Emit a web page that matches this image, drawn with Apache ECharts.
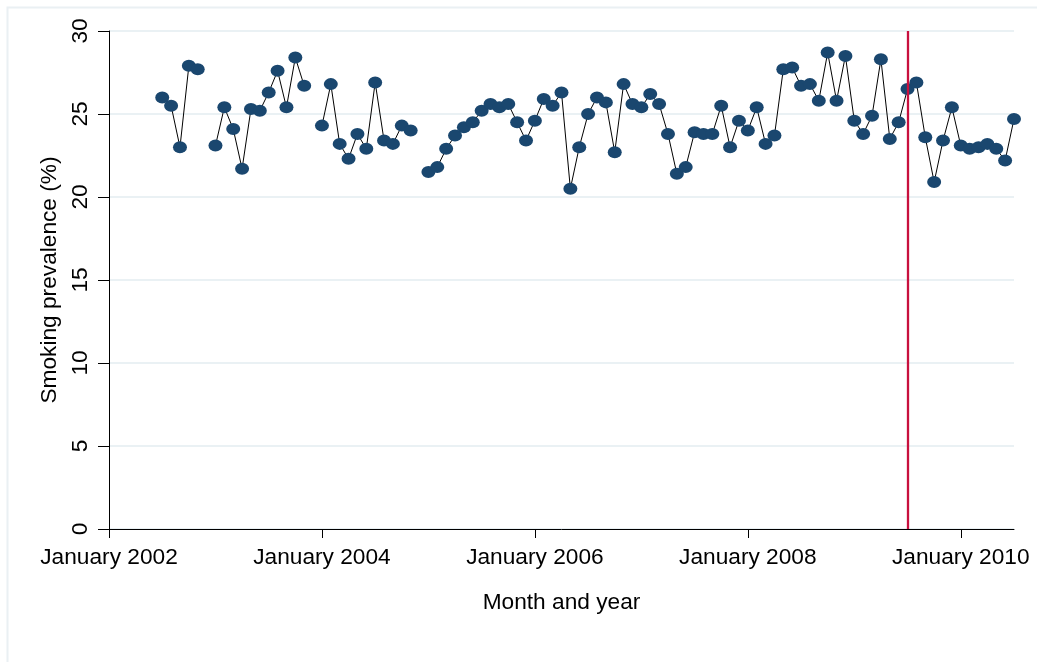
<!DOCTYPE html>
<html>
<head>
<meta charset="utf-8">
<script src="https://cdn.jsdelivr.net/npm/echarts@6/dist/echarts.min.js"></script>
<style>
html,body{margin:0;padding:0;background:#fff;}
#chart{width:1037px;height:662px;}
</style>
</head>
<body>
<div id="chart"></div>
<script>
// Month index 0 = January 2002; first observation July 2002 (index 6)
var firstMonth = 6;
var prevalence = [
  26.0, 25.5, 23.0, 27.9, 27.7, null,
  23.1, 25.4, 24.1, 21.7, 25.3, 25.2, 26.3, 27.6, 25.4, 28.4, 26.7, null,
  24.3, 26.8, 23.2, 22.3, 23.8, 22.9, 26.9, 23.4, 23.2, 24.3, 24.0, null,
  21.5, 21.8, 22.9, 23.7, 24.2, 24.5, 25.2, 25.6, 25.4, 25.6, 24.5, 23.4,
  24.6, 25.9, 25.5, 26.3, 20.5, 23.0, 25.0, 26.0, 25.7, 22.7, 26.8, 25.6,
  25.4, 26.2, 25.6, 23.8, 21.4, 21.8, 23.9, 23.8, 23.8, 25.5, 23.0, 24.6,
  24.0, 25.4, 23.2, 23.7, 27.7, 27.8, 26.7, 26.8, 25.8, 28.7, 25.8, 28.5,
  24.6, 23.8, 24.9, 28.3, 23.5, 24.5, 26.5, 26.9, 23.6, 20.9, 23.4, 25.4,
  23.1, 22.9, 23.0, 23.2, 22.9, 22.2, 24.7
];
var xTickMonths = [0, 24, 48, 72, 96];
var xTickLabels = ['January 2002', 'January 2004', 'January 2006', 'January 2008', 'January 2010'];
var yTicks = [0, 5, 10, 15, 20, 25, 30];
var interventionMonth = 90; // July 2009

var seriesData = prevalence.map(function (v, i) { return [firstMonth + i, v]; });

var chart = echarts.init(document.getElementById('chart'), null, {renderer: 'canvas'});
var font = 'Liberation Sans, Arial, sans-serif';
var fs = 22.7;
chart.setOption({
  backgroundColor: '#ffffff',
  animation: false,
  textStyle: {fontFamily: font},
  graphic: [{
    type: 'rect', left: 5, top: 5, silent: true, z: -10,
    shape: {width: 1100, height: 700},
    style: {fill: 'none', stroke: '#eaf0f3', lineWidth: 2}
  }],
  grid: {left: 109, right: 23, top: 31, bottom: 133},
  xAxis: {
    type: 'value', min: 0, max: 102, interval: 24,
    name: 'Month and year', nameLocation: 'middle', nameGap: 62,
    nameTextStyle: {fontSize: fs, color: '#000', fontFamily: font},
    axisLine: {show: true, onZero: false, lineStyle: {color: '#000', width: 1}},
    axisTick: {show: true, length: 9, customValues: xTickMonths, lineStyle: {color: '#000', width: 1}},
    axisLabel: {
      customValues: xTickMonths, fontSize: fs, color: '#000', margin: 17, fontFamily: font,
      formatter: function (v) { var k = xTickMonths.indexOf(v); return k >= 0 ? xTickLabels[k] : ''; }
    },
    splitLine: {show: false}
  },
  yAxis: {
    type: 'value', min: 0, max: 30, interval: 5,
    name: 'Smoking prevalence (%)', nameLocation: 'middle', nameGap: 39,
    nameTextStyle: {fontSize: fs, color: '#000', fontFamily: font},
    axisLine: {show: true, lineStyle: {color: '#000', width: 1}},
    axisTick: {show: true, length: 11, lineStyle: {color: '#000', width: 1}},
    axisLabel: {
      customValues: yTicks, rotate: 90, fontSize: fs, color: '#000', margin: 17, fontFamily: font
    },
    splitLine: {show: true, lineStyle: {color: '#eaf1f4', width: 2}}
  },
  series: [{
    type: 'line',
    data: seriesData,
    connectNulls: false,
    symbol: 'circle',
    symbolSize: [14, 12],
    showAllSymbol: true,
    itemStyle: {color: '#1a476f'},
    lineStyle: {color: '#000', width: 1},
    markLine: {
      silent: true,
      symbol: ['none', 'none'],
      label: {show: false},
      lineStyle: {color: '#c8103e', width: 2.3, type: 'solid'},
      data: [{xAxis: interventionMonth}]
    },
    z: 3
  }]
});
</script>
</body>
</html>
